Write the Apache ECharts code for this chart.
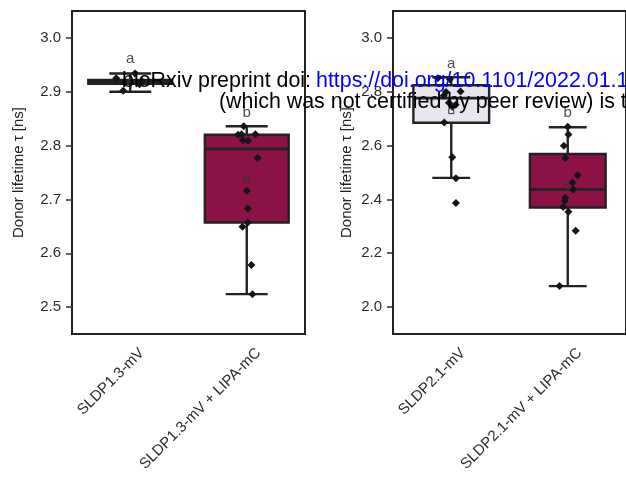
<!DOCTYPE html>
<html><head><meta charset="utf-8">
<script src="https://cdn.jsdelivr.net/npm/echarts@6/dist/echarts.min.js"></script>
<style>html,body{margin:0;padding:0;background:#fff}#c{width:626px;height:484px}</style>
</head><body><div id="c"></div>
<script>
// ---- data ----
const categoriesA = ['SLDP1.3-mV', 'SLDP1.3-mV + LIPA-mC'];
const categoriesB = ['SLDP2.1-mV', 'SLDP2.1-mV + LIPA-mC'];
// [lower whisker, Q1, median, Q3, upper whisker]
const boxA = [[2.900, 2.915, 2.918, 2.922, 2.934], [2.524, 2.657, 2.794, 2.820, 2.836]];
const boxB = [[2.480, 2.685, 2.776, 2.824, 2.854], [2.078, 2.370, 2.437, 2.569, 2.668]];
const meansA = [2.918, 2.739];
const meansB = [2.728, 2.448];
const pointsA1 = [2.934, 2.925, 2.920, 2.917, 2.914, 2.902];
const jitterA1 = [0.04, -0.12, 0.10, -0.05, 0.08, -0.06];
const pointsA2 = [2.836, 2.820, 2.821, 2.821, 2.810, 2.809, 2.777, 2.716, 2.683, 2.657, 2.649, 2.578, 2.524];
const jitterA2 = [-0.026, -0.074, -0.045, 0.074, -0.032, 0.011, 0.094, 0, 0.009, 0.009, -0.037, 0.04, 0.049];
const pointsB1 = [2.850, 2.846, 2.799, 2.801, 2.785, 2.759, 2.744, 2.752, 2.686, 2.557, 2.479, 2.387];
const jitterB1 = [-0.116, -0.011, -0.045, 0.080, -0.065, -0.020, 0.009, 0.038, -0.060, 0.009, 0.040, 0.040];
const pointsB2 = [2.670, 2.641, 2.599, 2.554, 2.490, 2.463, 2.437, 2.406, 2.394, 2.372, 2.354, 2.284, 2.078];
const jitterB2 = [0, 0.006, -0.034, -0.022, 0.085, 0.040, 0.046, -0.022, -0.026, -0.039, 0.006, 0.068, -0.071];
const lettersA = ['a', 'b'];
const letterValA = [2.962, 2.861];
const lettersB = ['a', 'b'];
const letterValB = [2.904, 2.723];
const ticksA = [2.5, 2.6, 2.7, 2.8, 2.9, 3.0];
const ticksB = [2.0, 2.2, 2.4, 2.6, 2.8, 3.0];
const yTitle = 'Donor lifetime τ [ns]';
const wmLine1a = 'bioRxiv preprint doi: ';
const wmLine1b = 'https://doi.org/10.1101/2022.01.1';
const wmLine2 = '(which was not certified by peer review) is t';

// ---- styles ----
const FILLS = ['#E9E6EF', '#8B1146'];
const INK = '#222222';
const FONT = 'Liberation Sans, Arial, sans-serif';

function boxRender(widthFrac) {
  return function (params, api) {
    const i = api.value(0);
    const lo = api.coord([i, api.value(1)]);
    const q1 = api.coord([i, api.value(2)]);
    const md = api.coord([i, api.value(3)]);
    const q3 = api.coord([i, api.value(4)]);
    const hi = api.coord([i, api.value(5)]);
    const band = api.size([1, 0])[0];
    const bw = band * widthFrac, cw = bw / 2, x = lo[0];
    const ls = { stroke: INK, lineWidth: 2.4 };
    return { type: 'group', children: [
      { type: 'line', shape: { x1: x, y1: hi[1], x2: x, y2: lo[1] }, style: ls },
      { type: 'line', shape: { x1: x - cw / 2, y1: hi[1], x2: x + cw / 2, y2: hi[1] }, style: ls },
      { type: 'line', shape: { x1: x - cw / 2, y1: lo[1], x2: x + cw / 2, y2: lo[1] }, style: ls },
      { type: 'rect', shape: { x: x - bw / 2, y: q3[1], width: bw, height: q1[1] - q3[1] },
        style: { fill: FILLS[i], stroke: INK, lineWidth: 2.4 } },
      { type: 'line', shape: { x1: x - bw / 2, y1: md[1], x2: x + bw / 2, y2: md[1] }, style: { stroke: INK, lineWidth: 2.8 } }
    ]};
  };
}

function panel(idx, cats, ticks, ymin, ymax, nameGap) {
  return {
    x: { type: 'category', gridIndex: idx, data: cats, boundaryGap: true,
      axisLine: { onZero: false, lineStyle: { color: INK, width: 2 } },
      axisTick: { alignWithLabel: true, length: 6, lineStyle: { color: '#333', width: 1.5 } },
      axisLabel: { rotate: 45, color: '#2b2b2b', fontSize: 15, fontFamily: FONT, margin: 5,
        verticalAlign: 'top', padding: [9, 0, 0, 0] } },
    x2: { type: 'value', gridIndex: idx, min: -0.5, max: 1.5, show: false },
    y: { type: 'value', gridIndex: idx, min: ymin, max: ymax, splitLine: { show: false },
      name: yTitle, nameLocation: 'middle', nameGap: nameGap,
      nameTextStyle: { color: INK, fontSize: 15, fontFamily: FONT },
      axisLine: { show: true, onZero: false, lineStyle: { color: INK, width: 2 } },
      axisTick: { show: true, length: 6, customValues: ticks, lineStyle: { color: '#333', width: 1.5 } },
      axisLabel: { customValues: ticks, color: '#2b2b2b', fontSize: 15, fontFamily: FONT, margin: 11,
        formatter: v => v.toFixed(1) } }
  };
}

const pA = panel(0, categoriesA, ticksA, 2.45, 3.05, 46);
const pB = panel(1, categoriesB, ticksB, 1.9, 3.1, 39);

function seriesFor(idx, box, means, pts, jit, letters, letterVals, wFrac) {
  const s = [];
  s.push({ type: 'custom', xAxisIndex: idx * 2, yAxisIndex: idx, renderItem: boxRender(wFrac),
    data: box.map((b, i) => [i, ...b]), z: 2, silent: true });
  pts.forEach((p, g) => {
    s.push({ type: 'scatter', xAxisIndex: idx * 2 + 1, yAxisIndex: idx, symbol: 'diamond', symbolSize: 8,
      itemStyle: { color: '#151515', opacity: 1 }, z: 5, silent: true,
      data: p.map((v, k) => [g + jit[g][k], v]) });
  });
  s.push({ type: 'scatter', xAxisIndex: idx * 2, yAxisIndex: idx, symbol: 'rect', symbolSize: 5,
    itemStyle: { color: 'rgba(0,0,0,0)', borderColor: '#333', borderWidth: 1, opacity: 1 }, z: 6, silent: true,
    data: means.map((m, i) => [i, m]) });
  s.push({ type: 'scatter', xAxisIndex: idx * 2, yAxisIndex: idx, symbolSize: 0, z: 7, silent: true,
    label: { show: true, position: 'inside', formatter: p => letters[p.dataIndex], color: INK, fontSize: 15, fontFamily: FONT },
    data: letterVals.map((v, i) => [i, v]) });
  return s;
}

const chart = echarts.init(document.getElementById('c'), null, { renderer: 'canvas' });
chart.setOption({
  animation: false,
  backgroundColor: '#fff',
  grid: [
    { left: 72, top: 11, width: 233, height: 323, show: true, borderColor: INK, borderWidth: 2, backgroundColor: 'transparent' },
    { left: 393, top: 11, width: 236, height: 323, show: true, borderColor: INK, borderWidth: 2, backgroundColor: 'transparent' }
  ],
  xAxis: [pA.x, pA.x2, pB.x, pB.x2],
  yAxis: [pA.y, pB.y],
  series: [
    ...seriesFor(0, boxA, meansA, [pointsA1, pointsA2], [jitterA1, jitterA2], lettersA, letterValA, 0.72),
    ...seriesFor(1, boxB, meansB, [pointsB1, pointsB2], [jitterB1, jitterB2], lettersB, letterValB, 0.65)
  ],
  graphic: [
    { type: 'text', left: 122, top: 71, z: 100, style: { text: wmLine1a, fill: '#000', font: '21.4px ' + FONT } },
    { type: 'text', left: 316, top: 71, z: 100, style: { text: wmLine1b, fill: '#0000FF', font: '21.4px ' + FONT } },
    { type: 'text', left: 219, top: 92, z: 100, style: { text: wmLine2, fill: '#000', font: '21.4px ' + FONT } }
  ]
});
</script>
</body></html>
